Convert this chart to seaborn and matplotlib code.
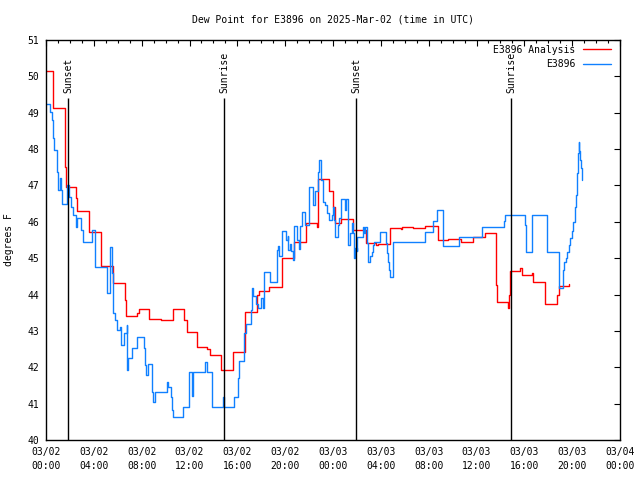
import matplotlib
matplotlib.use("Agg")
import matplotlib.pyplot as plt
import matplotlib.dates as mdates
import seaborn as sns
import pandas as pd
import numpy as np

title = "Dew Point for E3896 on 2025-Mar-02 (time in UTC)"
base_time = "2025-03-02 00:00"

# Hours after base_time, and dew point values (deg F)
red_hours = [0.0, 0.61, 1.56, 1.67, 2.51, 2.62, 3.62, 4.62, 5.58, 6.63, 6.69, 7.63, 7.8,
             8.59, 9.64, 10.64, 11.56, 11.76, 12.6, 13.44, 13.7, 14.63, 15.66, 16.64,
             17.67, 17.83, 18.67, 19.71, 20.75, 21.74, 22.7, 22.74, 23.69, 24.0, 24.16,
             24.67, 25.67, 26.8, 27.6, 27.8, 28.76, 29.68, 29.79, 30.66, 31.69, 32.78,
             33.64, 34.67, 35.73, 36.71, 37.63, 37.73, 38.6, 38.71, 38.82, 39.63, 39.77,
             40.66, 40.75, 41.75, 42.77, 42.89, 43.76]
red_vals = [50.15, 49.12, 47.5, 46.97, 46.65, 46.3, 45.71, 44.78, 44.31, 43.85, 43.41, 43.5, 43.59,
            43.32, 43.29, 43.59, 43.3, 42.97, 42.55, 42.5, 42.34, 41.92, 42.42, 43.53,
            44.0, 44.1, 44.22, 45.0, 45.45, 45.98, 45.87, 47.17, 46.85, 46.42, 45.98,
            46.07, 45.77, 45.41, 45.37, 45.39, 45.82, 45.8, 45.85, 45.84, 45.88, 45.5,
            45.53, 45.45, 45.57, 45.7, 44.26, 43.79, 43.62, 44.0, 44.65, 44.72, 44.54,
            44.6, 44.34, 43.73, 44.0, 44.24, 44.28]

blue_hours = [0.0, 0.33, 0.53, 0.61, 0.67, 0.89, 0.95, 1.0, 1.14, 1.23, 1.36, 1.78, 1.92,
              2.12, 2.28, 2.48, 2.62, 2.95, 3.12, 3.87, 4.1, 5.07, 5.35, 5.49, 5.63, 5.77,
              5.96, 6.19, 6.27, 6.55, 6.75, 6.8, 6.88, 7.17, 7.58, 8.19, 8.28, 8.36, 8.55,
              8.84, 8.92, 9.11, 10.09, 10.23, 10.43, 10.51, 10.59, 11.43, 11.98, 12.18,
              12.32, 13.29, 13.44, 13.85, 14.82, 14.92, 15.7, 16.08, 16.1, 16.56, 16.72,
              17.11, 17.2, 17.33, 17.56, 17.75, 17.95, 18.12, 18.25, 18.73, 19.29, 19.43,
              19.52, 19.71, 20.07, 20.23, 20.26, 20.4, 20.48, 20.62, 20.76, 20.99, 21.15,
              21.24, 21.38, 21.66, 22.02, 22.3, 22.49, 22.77, 22.83, 23.0, 23.19, 23.33,
              23.47, 23.69, 23.89, 24.02, 24.11, 24.16, 24.44, 24.52, 24.64, 25.0, 25.08,
              25.28, 25.42, 25.61, 25.69, 25.78, 25.86, 25.98, 26.03, 26.48, 26.59, 26.67,
              26.81, 26.9, 27.09, 27.23, 27.37, 27.45, 27.93, 28.4, 28.49, 28.57, 28.68,
              28.76, 28.99, 29.04, 31.69, 32.33, 32.67, 33.17, 33.22, 34.56, 36.43, 38.29,
              38.38, 40.05, 40.13, 40.61, 40.66, 41.86, 41.91, 42.89, 42.92, 43.25, 43.31,
              43.48, 43.59, 43.73, 43.81, 43.96, 44.09, 44.23, 44.29, 44.4, 44.51, 44.54,
              44.59, 44.65, 44.73, 44.84, 44.86]
blue_vals = [49.24, 49.03, 48.8, 48.3, 47.97, 47.6, 47.38, 46.88, 47.2, 46.88, 46.5, 47.0, 46.69,
             46.42, 46.19, 45.87, 46.1, 45.77, 45.45, 45.77, 44.77, 44.03, 45.3, 44.6, 43.48, 43.3,
             43.02, 43.1, 42.61, 42.93, 43.16, 41.92, 42.25, 42.52, 42.82, 42.52, 42.06, 41.79, 42.1,
             41.33, 41.05, 41.33, 41.6, 41.45, 41.19, 40.82, 40.64, 40.92, 41.88, 41.2,
             41.88, 42.15, 41.88, 40.92, 41.17, 40.92, 41.17, 41.7, 42.17, 42.95, 43.2,
             43.57, 44.17, 43.95, 43.75, 43.62, 43.9, 43.62, 44.61, 44.35, 45.22, 45.33,
             45.06, 45.76, 45.5, 45.62, 45.22, 45.4, 45.2, 44.96, 45.88, 45.5, 45.25,
             45.88, 46.28, 45.9, 46.95, 46.46, 46.85, 47.38, 47.7, 47.15, 46.55, 46.45,
             46.23, 46.05, 46.2, 46.42, 46.05, 45.59, 45.9, 46.1, 46.64, 46.32, 46.64,
             45.36, 45.68, 45.96, 45.68, 45.0, 45.27, 45.2, 45.59, 45.87, 45.68, 45.87,
             45.41, 44.9, 45.05, 45.18, 45.35, 45.45, 45.73, 45.41, 45.13, 44.9, 44.67,
             44.49, 45.0, 45.45, 45.73, 46.03, 46.32, 45.8, 45.33, 45.59, 45.87, 46.03,
             46.19, 45.9, 45.18, 45.6, 46.19, 45.68, 45.18, 44.67, 44.17, 44.67, 44.9,
             45.0, 45.18, 45.35, 45.55, 45.75, 46.0, 46.42, 46.74, 47.33, 47.88, 48.19,
             47.95, 47.7, 47.47, 47.15, 47.15]

sun_hours = [1.84, 14.88, 25.92, 38.88]
sun_labels = ["Sunset", "Sunrise", "Sunset", "Sunrise"]

legend_labels = ["E3896 Analysis", "E3896"]
y_ticks = list(range(40, 52))

t0 = pd.Timestamp(base_time)
red_df = pd.DataFrame({"time": t0 + pd.to_timedelta(red_hours, unit="h"), "val": red_vals})
blue_df = pd.DataFrame({"time": t0 + pd.to_timedelta(blue_hours, unit="h"), "val": blue_vals})

sns.set_style("white")
plt.rcParams["font.family"] = ["DejaVu Sans Mono", "DejaVu Sans"]
plt.rcParams["font.size"] = 7
plt.rcParams["text.color"] = "black"
plt.rcParams["axes.labelcolor"] = "black"
plt.rcParams["xtick.color"] = "black"
plt.rcParams["ytick.color"] = "black"

fig = plt.figure(figsize=(6.4, 4.8), dpi=100)
ax = fig.add_axes([46 / 640, 40 / 480, 574 / 640, 400 / 480])

sns.lineplot(data=red_df, x="time", y="val", ax=ax, color="#ff0000", lw=1.0,
             drawstyle="steps-post", estimator=None, sort=False, label=legend_labels[0])
sns.lineplot(data=blue_df, x="time", y="val", ax=ax, color="#1080ff", lw=1.0,
             drawstyle="steps-post", estimator=None, sort=False, label=legend_labels[1])

for h, lab in zip(sun_hours, sun_labels):
    tx = t0 + pd.Timedelta(hours=h)
    ax.vlines(tx, 40, 49.4, color="black", lw=1.0)
    ax.text(tx, 49.55, lab, rotation=90, ha="center", va="bottom", fontsize=7, color="black")

ax.set_xlim(t0, t0 + pd.Timedelta(hours=48))
ax.set_ylim(40, 51)
ax.set_yticks(y_ticks)
ax.xaxis.set_major_locator(mdates.HourLocator(byhour=range(0, 24, 4)))
ax.xaxis.set_minor_locator(mdates.HourLocator())
ax.xaxis.set_major_formatter(mdates.DateFormatter("%m/%d\n%H:%M"))
ax.tick_params(axis="both", which="major", direction="in", length=4.5, width=0.8,
               top=True, right=True, labelsize=7, pad=5, color="black", labelcolor="black")
ax.tick_params(axis="both", which="minor", direction="in", length=2.5, width=0.8,
               top=True, right=True, color="black")
for lab in ax.get_xticklabels():
    lab.set_linespacing(1.5)
for s in ax.spines.values():
    s.set_color("black")
    s.set_linewidth(1.0)

ax.set_xlabel("")
ax.set_ylabel("degrees F", fontsize=7, color="black")
ax.yaxis.set_label_coords(-0.055, 0.5)

leg = ax.legend(loc="upper right", bbox_to_anchor=(0.997, 1.005), frameon=False,
                markerfirst=False, fontsize=7, handlelength=2.9, handletextpad=0.8,
                labelspacing=0.45, borderaxespad=0.3)
for t in leg.get_texts():
    t.set_ha("right")
    t.set_color("black")

fig.text(333 / 640, 1 - 19 / 480, title, ha="center", va="center", fontsize=7, color="black")

fig.savefig("out.png", dpi=100)
